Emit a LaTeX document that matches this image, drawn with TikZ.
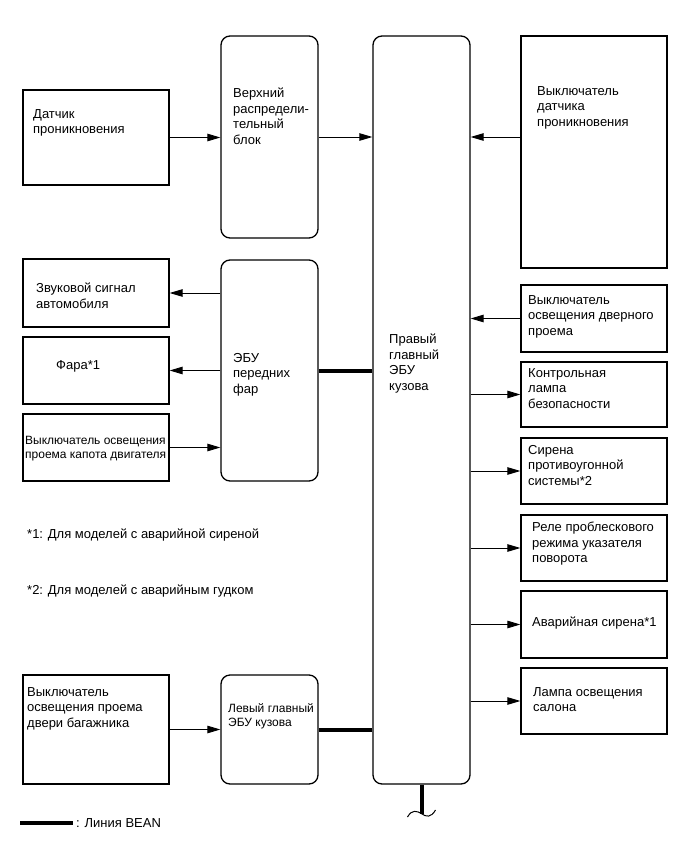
\documentclass[tikz,border=0pt]{standalone}
\usepackage{fontspec}
\setmainfont{Liberation Sans}
\usetikzlibrary{arrows.meta, positioning, fit}

\tikzset{
  blk/.style={draw, line width=1.3pt, inner sep=0pt, fit={#1}},
  ecu/.style={blk={#1}, rounded corners=9pt},
  txt/.style={anchor=north west, inner sep=0pt, align=left, font=\fontsize{13}{15.5}\selectfont},
  smalltxt/.style={txt, font=\fontsize{12}{14}\selectfont},
  arr/.style={line width=0.9pt, -{Triangle[length=13pt,width=7.5pt]}},
  bean/.style={line width=4pt}
}

\begin{document}
\begin{tikzpicture}[x=1pt, y=-1pt]
  \useasboundingbox (0,0) rectangle (691,854);

  % left column
  \node[blk={(23,90) (169,185)}] (sensor) {};
  \node[txt] (sensor-t) at (33,109) {Датчик\\проникновения};
  \node[blk={(23,259) (169,327)}] (horn) {};
  \node[txt] (horn-t) at (36,283) {Звуковой сигнал\\автомобиля};
  \node[blk={(23,337) (169,404)}] (lamp) {};
  \node[txt] (lamp-t) at (56,360) {Фара*1};
  \node[blk={(23,414) (169,481)}] (hood) {};
  \node[smalltxt] (hood-t) at (25,436) {Выключатель освещения\\проема капота двигателя};
  \node[blk={(23,675) (169,784)}] (trunk) {};
  \node[txt] (trunk-t) at (27,687) {Выключатель\\освещения проема\\двери багажника};

  % middle column (ECU and junction block)
  \node[ecu={(221,36) (318,238)}] (jb) {};
  \node[txt] (jb-t) at (233,88) {Верхний\\распредели-\\тельный\\блок};
  \node[ecu={(221,260) (318,481)}] (hlecu) {};
  \node[txt] (hlecu-t) at (233,353) {ЭБУ\\передних\\фар};
  \node[ecu={(221,675) (318,784)}] (lecu) {};
  \node[smalltxt] (lecu-t) at (228,703) {Левый главный\\ЭБУ кузова};

  % main body ECU
  \node[ecu={(373,36) (470,784)}] (main) {};
  \node[txt] (main-t) at (389,334) {Правый\\главный\\ЭБУ\\кузова};

  % right column
  \node[blk={(521,36) (667,268)}] (intsw) {};
  \node[txt] (intsw-t) at (537,86) {Выключатель\\датчика\\проникновения};
  \node[blk={(521,285) (667,352)}] (doorsw) {};
  \node[txt] (doorsw-t) at (528,295) {Выключатель\\освещения дверного\\проема};
  \node[blk={(521,362) (667,427)}] (seclamp) {};
  \node[txt] (seclamp-t) at (528,368) {Контрольная\\лампа\\безопасности};
  \node[blk={(521,438) (667,504)}] (siren) {};
  \node[txt] (siren-t) at (528,445) {Сирена\\противоугонной\\системы*2};
  \node[blk={(521,515) (667,581)}] (relay) {};
  \node[txt] (relay-t) at (532,522) {Реле проблескового\\режима указателя\\поворота};
  \node[blk={(521,591) (667,658)}] (hazard) {};
  \node[txt] (hazard-t) at (532,617) {Аварийная сирена*1};
  \node[blk={(521,668) (667,734)}] (room) {};
  \node[txt] (room-t) at (533,687) {Лампа освещения\\салона};

  % signal lines
  \draw[arr] (sensor.east) -- (jb.west |- sensor);
  \draw[arr] (jb.east) -- (main.west |- jb);
  \draw[arr] (intsw.west |- jb) -- (main.east |- jb);
  \draw[arr] (hlecu.west |- horn) -- (horn.east);
  \draw[arr] (hlecu.west |- lamp) -- (lamp.east);
  \draw[arr] (hood.east) -- (hlecu.west |- hood);
  \draw[arr] (doorsw.west) -- (main.east |- doorsw);
  \foreach \out in {seclamp, siren, relay, hazard, room}
    \draw[arr] (main.east |- \out) -- (\out.west);
  \draw[arr] (trunk.east) -- (lecu.west);

  % BEAN lines
  \draw[bean] (hlecu.east |- lamp) -- (main.west |- lamp);
  \draw[bean] (lecu.east) -- (main.west |- lecu);
  \draw[bean] (main.south) -- ++(0,29) coordinate (brk);
  \draw[line width=1pt] (407.5,817) .. controls (412,809) and (417,811) .. (brk)
    .. controls (426,817) and (431,818) .. (435.5,810);

  % notes and legend
  \node[txt, anchor=west] (note1) at (27,535) {*1: Для моделей с аварийной сиреной};
  \node[txt, anchor=west] (note2) at (27,591) {*2: Для моделей с аварийным гудком};
  \coordinate (leg-a) at (20,823);
  \coordinate (leg-b) at (73,823);
  \draw[bean] (leg-a) -- (leg-b);
  \node[txt, anchor=west, xshift=3pt] (leg-t) at (leg-b) {: Линия BEAN};
\end{tikzpicture}
\end{document}
